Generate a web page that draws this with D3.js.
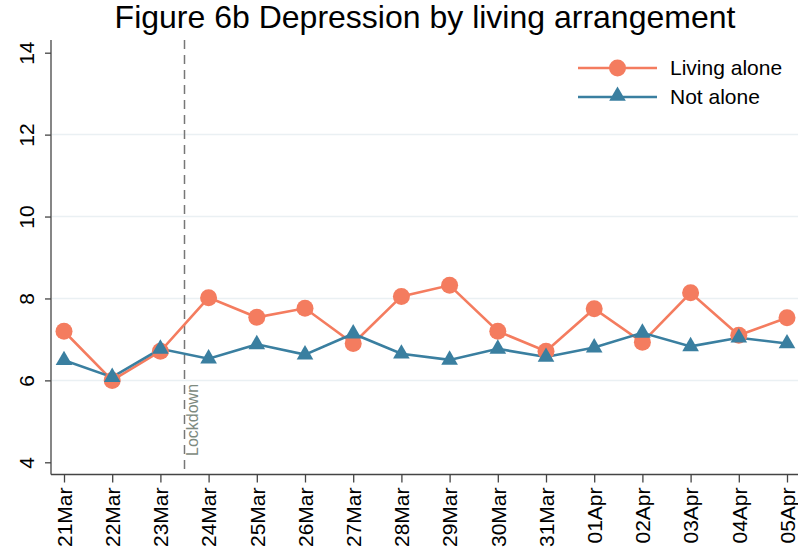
<!DOCTYPE html>
<html>
<head>
<meta charset="utf-8">
<script src="https://cdn.jsdelivr.net/npm/d3@7"></script>
<style>
  body { margin: 0; background: #fff; }
  text { font-family: "Liberation Sans", Arial, sans-serif; }
</style>
</head>
<body>
<div id="chart"></div>
<script>
var days = ["21Mar", "22Mar", "23Mar", "24Mar", "25Mar", "26Mar", "27Mar", "28Mar",
            "29Mar", "30Mar", "31Mar", "01Apr", "02Apr", "03Apr", "04Apr", "05Apr"];
var livingAlone = [7.2, 6.0, 6.71, 8.02, 7.54, 7.76, 6.9, 8.05,
                   8.32, 7.2, 6.71, 7.75, 6.93, 8.14, 7.1, 7.53];
var notAlone = [6.49, 6.08, 6.77, 6.53, 6.88, 6.63, 7.14, 6.65,
                6.5, 6.77, 6.57, 6.8, 7.16, 6.83, 7.04, 6.9];
var yTicks = [4, 6, 8, 10, 12, 14];
var gridTicks = [6, 8, 10, 12];
var lockdownAfter = "23Mar";

var width = 798, height = 553;
var orange = "#f47c5f", blue = "#3a7fa0";

var svg = d3.select("#chart").append("svg")
    .attr("width", width)
    .attr("height", height);

var x = d3.scalePoint().domain(days).range([64, 787]);
var step = x.step();
var y = d3.scaleLinear().domain([4, 14]).range([462.3, 52.7]);

// title
svg.append("text")
    .attr("x", 425)
    .attr("y", 28)
    .attr("text-anchor", "middle")
    .style("font-size", "32px")
    .style("fill", "#000")
    .text("Figure 6b Depression by living arrangement");

// grid lines
svg.append("g").selectAll("line")
    .data(gridTicks)
    .enter().append("line")
    .attr("x1", 52).attr("x2", width)
    .attr("y1", function (d) { return y(d); })
    .attr("y2", function (d) { return y(d); })
    .style("stroke", "#eaf0f3")
    .style("stroke-width", 1.5);

// y axis
var yAxis = svg.append("g")
    .attr("transform", "translate(51,0)")
    .call(d3.axisLeft(y).tickValues(yTicks).tickSize(6).tickFormat(d3.format("d")));
yAxis.select(".domain").attr("d", "M0,40V474.5").style("stroke", "#444").style("stroke-width", 1.3);
yAxis.selectAll(".tick line").style("stroke", "#444").style("stroke-width", 1.3);
yAxis.selectAll(".tick text")
    .attr("transform", "rotate(-90)")
    .attr("x", 0)
    .attr("y", -17)
    .attr("dy", 0)
    .attr("text-anchor", "middle")
    .style("font-size", "21px")
    .style("font-family", "'Liberation Sans', Arial, sans-serif")
    .style("fill", "#000");

// x axis
var xAxis = svg.append("g")
    .attr("transform", "translate(0,474.5)")
    .call(d3.axisBottom(x).tickSize(8).tickSizeOuter(0));
xAxis.select(".domain").attr("d", "M51,0H" + width).style("stroke", "#444").style("stroke-width", 1.3);
xAxis.selectAll(".tick line").style("stroke", "#444").style("stroke-width", 1.3);
xAxis.selectAll(".tick text")
    .attr("transform", "rotate(-90)")
    .attr("x", -13)
    .attr("y", 0)
    .attr("dy", "0.35em")
    .attr("text-anchor", "end")
    .style("font-size", "21px")
    .style("font-family", "'Liberation Sans', Arial, sans-serif")
    .style("fill", "#000");

// lockdown line
var lx = x(lockdownAfter) + step / 2;
svg.append("line")
    .attr("x1", lx).attr("x2", lx)
    .attr("y1", 40).attr("y2", 474.5)
    .style("stroke", "#777")
    .style("stroke-width", 1.5)
    .style("stroke-dasharray", "9,6");

svg.append("text")
    .attr("transform", "translate(" + (lx + 13) + ",456) rotate(-90)")
    .attr("text-anchor", "start")
    .style("font-size", "16px")
    .style("fill", "#7d8a80")
    .text("Lockdown");

// lines
var line = d3.line()
    .x(function (d, i) { return x(days[i]); })
    .y(function (d) { return y(d); });

svg.append("path")
    .datum(livingAlone)
    .attr("d", line)
    .style("fill", "none")
    .style("stroke", orange)
    .style("stroke-width", 2.6);

svg.append("path")
    .datum(notAlone)
    .attr("d", line)
    .style("fill", "none")
    .style("stroke", blue)
    .style("stroke-width", 2.6);

var tri = d3.symbol().type(d3.symbolTriangle).size(120);

svg.append("g").selectAll("circle")
    .data(livingAlone)
    .enter().append("circle")
    .attr("cx", function (d, i) { return x(days[i]); })
    .attr("cy", function (d) { return y(d); })
    .attr("r", 8.5)
    .style("fill", orange);

svg.append("g").selectAll("path")
    .data(notAlone)
    .enter().append("path")
    .attr("d", tri)
    .attr("transform", function (d, i) {
        return "translate(" + x(days[i]) + "," + y(d) + ")";
    })
    .style("fill", blue);

// legend
var legend = [
    { label: "Living alone", color: orange, shape: "circle", y: 68 },
    { label: "Not alone", color: blue, shape: "triangle", y: 97 }
];
var lg = svg.append("g").selectAll("g")
    .data(legend)
    .enter().append("g")
    .attr("transform", function (d) { return "translate(0," + d.y + ")"; });

lg.append("line")
    .attr("x1", 578).attr("x2", 657)
    .attr("y1", 0).attr("y2", 0)
    .style("stroke", function (d) { return d.color; })
    .style("stroke-width", 2.6);

lg.filter(function (d) { return d.shape === "circle"; })
    .append("circle")
    .attr("cx", 617.5).attr("cy", 0).attr("r", 8.5)
    .style("fill", orange);

lg.filter(function (d) { return d.shape === "triangle"; })
    .append("path")
    .attr("d", tri)
    .attr("transform", "translate(617.5,-1)")
    .style("fill", blue);

lg.append("text")
    .attr("x", 670)
    .attr("y", 0)
    .attr("dy", "0.35em")
    .style("font-size", "21px")
    .style("fill", "#000")
    .text(function (d) { return d.label; });
</script>
</body>
</html>
